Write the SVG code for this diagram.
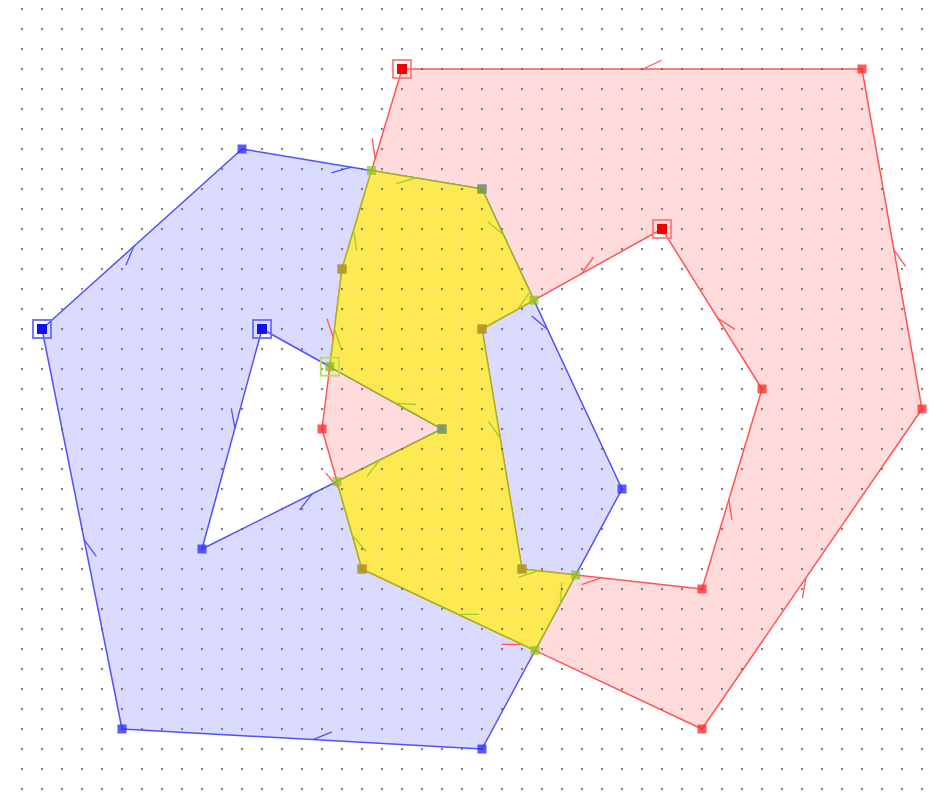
<svg xmlns="http://www.w3.org/2000/svg" width="942" height="794" viewBox="0 0 942 794">
<defs>
<pattern id="dots" x="1.1" y="8.1" width="20" height="20" patternUnits="userSpaceOnUse"><rect width="1.8" height="1.8" fill="#5a5a5a"/></pattern>
<style>
.bf{fill:#0000ff;fill-opacity:0.14;fill-rule:evenodd;stroke:#5050ff;stroke-width:1.5;stroke-linejoin:round}
.rf{fill:#ff0000;fill-opacity:0.14;fill-rule:evenodd;stroke:#ff5555;stroke-width:1.5;stroke-linejoin:round}
.yf{fill:#ffee48;fill-opacity:0.93;stroke:#9cbc10;stroke-opacity:0.85;stroke-width:1.5;stroke-linejoin:round}
.bt{fill:none;stroke:#5050ff;stroke-width:1.3;stroke-linecap:round}
.rt{fill:none;stroke:#ff5555;stroke-width:1.3;stroke-linecap:round}
.yt{fill:none;stroke:#a0cc30;stroke-width:1.3;stroke-linecap:round}
.bv{fill:#3030ff;fill-opacity:0.8}
.rv{fill:#ff3030;fill-opacity:0.8}
.yv{fill:#90c020;fill-opacity:0.7}
.bs{fill:#1010f0}
.rs{fill:#f00000}
.ys{fill:#90c020;fill-opacity:0.85}
.bo{fill:none;stroke:#6a6aff;stroke-width:1.8}
.ro{fill:none;stroke:#ff7a7a;stroke-width:1.8}
.yo{fill:none;stroke:#b6dc60;stroke-width:1.8}
</style>
</defs>
<rect width="942" height="794" fill="#ffffff"/>

<g id="polygon-blue">
<path class="bf" d="M42,329 L242,149 L482,189 L622,489 L482,749 L122,729 Z M262,329 L202,549 L442,429 Z"/>
<g id="blue-ticks">
<polyline class="bt" points="133.8,246.4 126.1,264.8"/>
<polyline class="bt" points="351.2,167.2 332.0,172.6"/>
<polyline class="bt" points="547.3,329.0 532.0,316.3"/>
<polyline class="bt" points="557.2,609.3 558.3,589.4"/>
<polyline class="bt" points="313.0,739.6 331.4,732.1"/>
<polyline class="bt" points="84.2,539.8 96.0,555.8"/>
<polyline class="bt" points="234.9,428.4 231.4,408.8"/>
<polyline class="bt" points="312.2,493.9 299.9,509.6"/>
<polyline class="bt" points="361.6,384.3 381.5,385.6"/>
</g>
</g>

<g id="polygon-red">
<path class="rf" d="M402,69 L342,269 L322,429 L362,569 L702,729 L922,409 L862,69 Z M662,229 L482,329 L522,569 L702,589 L762,389 Z"/>
<g id="red-ticks">
<polyline class="rt" points="375.2,158.5 372.2,138.8"/>
<polyline class="rt" points="333.4,338.1 327.2,319.2"/>
<polyline class="rt" points="339.0,488.4 325.9,473.4"/>
<polyline class="rt" points="522.0,644.3 502.1,644.3"/>
<polyline class="rt" points="805.8,578.1 802.6,597.7"/>
<polyline class="rt" points="893.9,249.8 905.4,266.1"/>
<polyline class="rt" points="643,69 661,60.5"/>
<polyline class="rt" points="581.6,273.7 593.2,257.5"/>
<polyline class="rt" points="500.2,438.2 488.9,421.8"/>
<polyline class="rt" points="601.1,577.8 582.3,584.3"/>
<polyline class="rt" points="728.8,499.5 731.8,519.2"/>
<polyline class="rt" points="717.8,318.3 734.6,329.1"/>
</g>
</g>

<g id="polygon-intersection">
<path class="yf" d="M329.8,366.7 L342,269 L371.5,170.6 L482,189 L533.9,300.2 L482,329 L522,569 L575.7,575 L535.1,650.4 L362,569 L337,481.5 L442,429 Z"/>
<g id="yellow-ticks">
<polyline class="yt" points="334.5,328.8 340.7,347.7"/>
<polyline class="yt" points="353.6,230.3 356.6,250.0"/>
<polyline class="yt" points="415.9,178.0 396.7,183.4"/>
<polyline class="yt" points="503.3,234.6 488.0,221.9"/>
<polyline class="yt" points="517.6,309.3 529.2,293.1"/>
<polyline class="yt" points="500.2,438.2 488.9,421.8"/>
<polyline class="yt" points="537.9,570.8 519.1,577.2"/>
<polyline class="yt" points="560.6,603.0 561.7,583.1"/>
<polyline class="yt" points="458.5,614.4 478.4,614.4"/>
<polyline class="yt" points="352.5,535.8 365.6,550.8"/>
<polyline class="yt" points="379.7,460.2 367.4,475.8"/>
<polyline class="yt" points="395.5,403.2 415.4,404.5"/>
</g>
</g>

<rect id="grid" x="18" y="6" width="910" height="788" fill="url(#dots)"/>

<g id="blue-vertices">
<g id="b1"><rect class="bo" x="33" y="320" width="18" height="18"/><rect class="bs" x="37" y="324" width="10" height="10"/></g>
<g id="b2"><rect class="bv" x="237.5" y="144.5" width="9" height="9"/></g>
<g id="b3"><rect class="bv" x="477.5" y="184.5" width="9" height="9"/></g>
<g id="b4"><rect class="bv" x="617.5" y="484.5" width="9" height="9"/></g>
<g id="b5"><rect class="bv" x="477.5" y="744.5" width="9" height="9"/></g>
<g id="b6"><rect class="bv" x="117.5" y="724.5" width="9" height="9"/></g>
<g id="bh1"><rect class="bo" x="253" y="320" width="18" height="18"/><rect class="bs" x="257" y="324" width="10" height="10"/></g>
<g id="bh2"><rect class="bv" x="197.5" y="544.5" width="9" height="9"/></g>
<g id="bh3"><rect class="bv" x="437.5" y="424.5" width="9" height="9"/></g>
</g>

<g id="red-vertices">
<g id="r1"><rect class="ro" x="393" y="60" width="18" height="18"/><rect class="rs" x="397" y="64" width="10" height="10"/></g>
<g id="r2"><rect class="rv" x="337.5" y="264.5" width="9" height="9"/></g>
<g id="r3"><rect class="rv" x="317.5" y="424.5" width="9" height="9"/></g>
<g id="r4"><rect class="rv" x="357.5" y="564.5" width="9" height="9"/></g>
<g id="r5"><rect class="rv" x="697.5" y="724.5" width="9" height="9"/></g>
<g id="r6"><rect class="rv" x="917.5" y="404.5" width="9" height="9"/></g>
<g id="r7"><rect class="rv" x="857.5" y="64.5" width="9" height="9"/></g>
<g id="rh1"><rect class="ro" x="653" y="220" width="18" height="18"/><rect class="rs" x="657" y="224" width="10" height="10"/></g>
<g id="rh2"><rect class="rv" x="477.5" y="324.5" width="9" height="9"/></g>
<g id="rh3"><rect class="rv" x="517.5" y="564.5" width="9" height="9"/></g>
<g id="rh4"><rect class="rv" x="697.5" y="584.5" width="9" height="9"/></g>
<g id="rh5"><rect class="rv" x="757.5" y="384.5" width="9" height="9"/></g>
</g>

<g id="intersection-vertices">
<g id="y1"><rect class="yo" x="320.8" y="357.7" width="18" height="18"/><rect class="ys" x="325.3" y="362.2" width="9" height="9"/></g>
<g id="y2"><rect class="yv" x="337.5" y="264.5" width="9" height="9"/></g>
<g id="y3"><rect class="yv" x="367" y="166.1" width="9" height="9"/></g>
<g id="y4"><rect class="yv" x="477.5" y="184.5" width="9" height="9"/></g>
<g id="y5"><rect class="yv" x="529.4" y="295.7" width="9" height="9"/></g>
<g id="y6"><rect class="yv" x="477.5" y="324.5" width="9" height="9"/></g>
<g id="y7"><rect class="yv" x="517.5" y="564.5" width="9" height="9"/></g>
<g id="y8"><rect class="yv" x="571.2" y="570.5" width="9" height="9"/></g>
<g id="y9"><rect class="yv" x="530.6" y="645.9" width="9" height="9"/></g>
<g id="y10"><rect class="yv" x="357.5" y="564.5" width="9" height="9"/></g>
<g id="y11"><rect class="yv" x="332.5" y="477" width="9" height="9"/></g>
<g id="y12"><rect class="yv" x="437.5" y="424.5" width="9" height="9"/></g>
</g>
</svg>
